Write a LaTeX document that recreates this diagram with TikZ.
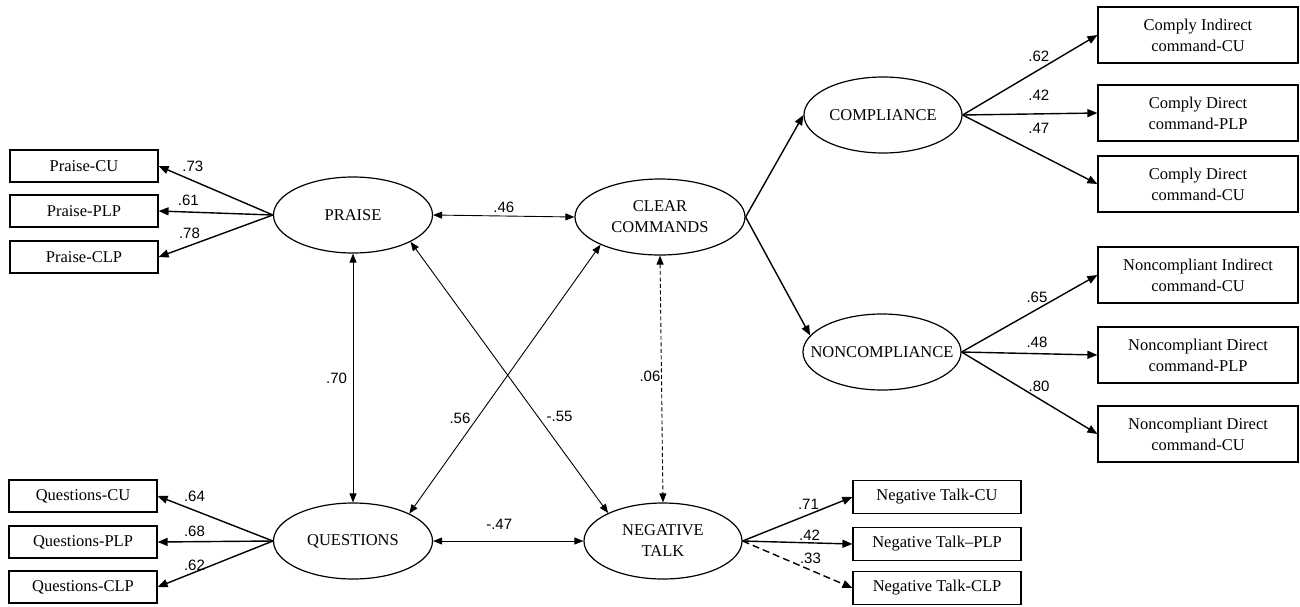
\documentclass[tikz,border=0pt]{standalone}
\usepackage{fontspec}
\setmainfont{Liberation Serif}
\newfontfamily\coeffont{Liberation Sans}
\usetikzlibrary{arrows.meta,shapes.geometric}
\tikzset{latent/.style={ellipse,draw,line width=1.2pt,inner sep=0pt,minimum height=76pt,minimum width=#1},
 indicator/.style={rectangle,draw,line width=1.2pt,inner sep=0pt,align=center},
 smallbox/.style={indicator,minimum width=148pt,minimum height=32pt},
 widebox/.style={indicator,minimum width=200pt,minimum height=56pt},
 talkbox/.style={indicator,minimum width=168pt,minimum height=33pt},
 loading/.style={-{Triangle[length=10pt,width=8pt]},line width=1.4pt},
 corr/.style={{Triangle[length=9pt,width=7pt]}-{Triangle[length=9pt,width=7pt]},line width=0.9pt},
 coef/.style={font=\coeffont\fontsize{15}{18}\selectfont,inner sep=0pt},
 every node/.style={font=\fontsize{16.5}{21}\selectfont}}

\begin{document}
\begin{tikzpicture}[x=1pt,y=-1pt]
\useasboundingbox (0,0) rectangle (1300,606);
\node[latent=159pt] (praise) at (353,215) {PRAISE};
\node[latent=159pt] (quest) at (353,541) {QUESTIONS};
\node[latent=170pt,align=center] (clear) at (660,217) {CLEAR\\COMMANDS};
\node[latent=158pt,align=center] (negtalk) at (663,541) {NEGATIVE\\TALK};
\node[latent=158pt] (comply) at (883,115) {COMPLIANCE};
\node[latent=158pt] (noncomply) at (882,352) {\makebox[0pt]{NONCOMPLIANCE}};
\node[smallbox] (praisecu) at (84,166) {Praise-CU};
\node[smallbox] (praiseplp) at (84,211) {Praise-PLP};
\node[smallbox] (praiseclp) at (84,257) {Praise-CLP};
\node[smallbox] (questcu) at (83,496) {Questions-CU};
\node[smallbox] (questplp) at (83,542) {Questions-PLP};
\node[smallbox] (questclp) at (83,587) {Questions-CLP};
\node[widebox] (complyindcu) at (1198,35) {Comply Indirect\\command-CU};
\node[widebox] (complydirplp) at (1198,113) {Comply Direct\\command-PLP};
\node[widebox] (complydircu) at (1198,184) {Comply Direct\\command-CU};
\node[widebox] (nonindcu) at (1198,275) {Noncompliant Indirect\\command-CU};
\node[widebox] (nondirplp) at (1198,355) {Noncompliant Direct\\command-PLP};
\node[widebox] (nondircu) at (1198,434) {Noncompliant Direct\\command-CU};
\node[talkbox] (talkcu) at (937,497) {Negative Talk-CU};
\node[talkbox] (talkplp) at (937,544) {Negative Talk–PLP};
\node[talkbox] (talkclp) at (937,588) {Negative Talk-CLP};
\draw[loading] (praise.west) -- (praisecu.east) node[coef,pos=.7,above=8.5pt] {.73};
\draw[loading] (praise.west) -- (praiseplp.east) node[coef,pos=.74,above=5.4pt] {.61};
\draw[loading] (praise.west) -- (praiseclp.east) node[coef,pos=.73,above=6.3pt] {.78};
\draw[loading] (quest.west) -- (questcu.east) node[coef,pos=.68,above=8pt] {.64};
\draw[loading] (quest.west) -- (questplp.east) node[coef,pos=.68,above=4.3pt] {.68};
\draw[loading] (quest.west) -- (questclp.east) node[coef,pos=.68,above=1pt] {.62};
\draw[loading] (comply.east) -- (complyindcu.west) node[coef,pos=.566,above=7.3pt] {.62};
\draw[loading] (comply.east) -- (complydirplp.west) node[coef,pos=.566,above=12.6pt] {.42};
\draw[loading] (comply.east) -- (complydircu.west) node[coef,pos=.566,above=19.6pt] {.47};
\draw[loading] (noncomply.east) -- (nonindcu.west) node[coef,pos=.555,above=6pt] {.65};
\draw[loading] (noncomply.east) -- (nondirplp.west) node[coef,pos=.555,above=5.3pt] {.48};
\draw[loading] (noncomply.east) -- (nondircu.west) node[coef,pos=.57,above=6.3pt] {.80};
\draw[loading] (negtalk.east) -- (talkcu.west) node[coef,pos=.6,above=4.2pt] {.71};
\draw[loading] (negtalk.east) -- (talkplp.west) node[coef,pos=.61,above=1.2pt] {.42};
\draw[loading,dash pattern=on 7pt off 4pt] (negtalk.east) -- (talkclp.west) node[coef,pos=.618,above=6pt] {.33};
\draw[loading] (clear.east) -- (comply.west);
\draw[loading] (clear.east) -- (noncomply.167);
\draw[corr] (praise.east) -- (clear.west) node[coef,midway,above=3.1pt] {.46};
\draw[corr] (praise.south) -- (quest.north) node[coef,midway,left=5.6pt] {.70};
\draw[corr] (praise.335) -- (negtalk.153) node[coef,pos=.644,right=8.4pt] {-.55};
\draw[corr] (clear.205) -- (quest.26) node[coef,pos=.644,left=6.5pt] {.56};
\draw[corr,dash pattern=on 4pt off 2.5pt] (clear.south) -- (negtalk.north) node[coef,pos=.49,left=.6pt] {.06};
\draw[corr] (quest.east) -- (negtalk.west) node[coef,pos=.44,above=10.6pt] {-.47};
\end{tikzpicture}
\end{document}
